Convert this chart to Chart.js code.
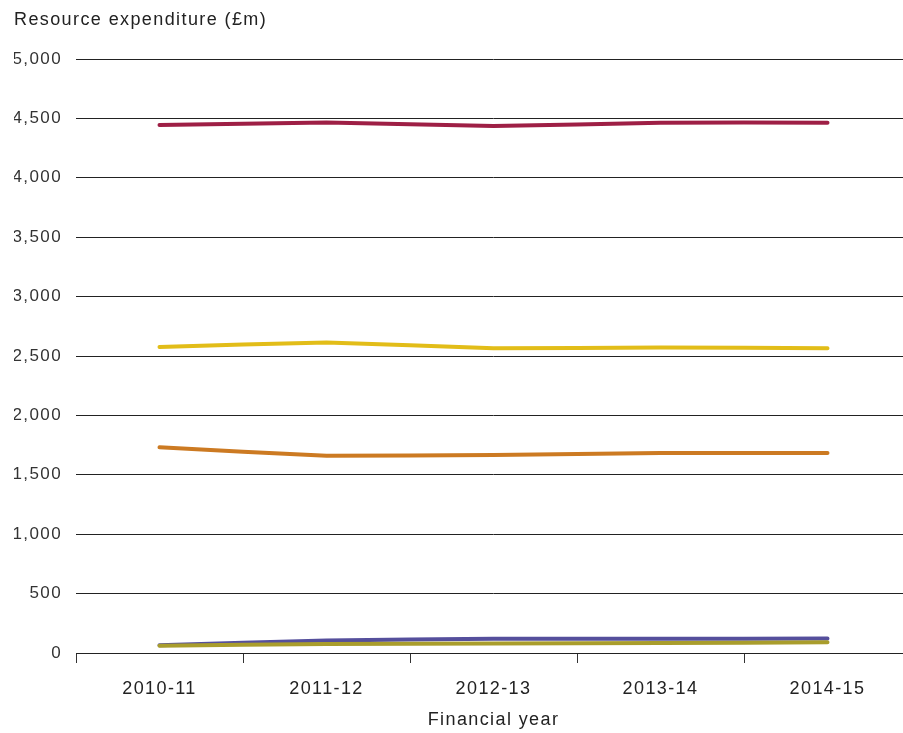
<!DOCTYPE html>
<html>
<head>
<meta charset="utf-8">
<style>
  html, body { margin: 0; padding: 0; overflow: hidden; background: #fff; }
  #wrap { width: 915px; height: 733px; }
</style>
<script src="https://cdn.jsdelivr.net/npm/chart.js@4.4.1/dist/chart.umd.min.js"></script>
</head>
<body>
<div id="wrap"><canvas id="c" width="915" height="733"></canvas></div>
<script>
const categories = ['2010-11', '2011-12', '2012-13', '2013-14', '2014-15'];
const seriesRed = [4444, 4466, 4436, 4464, 4464];
const seriesYellow = [2576, 2613, 2565, 2572, 2565];
const seriesOrange = [1731, 1661, 1667, 1684, 1684];
const seriesOlive = [62, 76, 81, 84, 90];
const seriesBlue = [66, 106, 120, 120, 122];
const yTicks = [0, 500, 1000, 1500, 2000, 2500, 3000, 3500, 4000, 4500, 5000];

const font = 'Liberation Sans, Arial, Helvetica, sans-serif';
const ds = (data, color) => ({
  data, borderColor: color, backgroundColor: color, borderWidth: 4,
  pointRadius: 0, tension: 0.1, fill: false, borderCapStyle: 'round', borderJoinStyle: 'round'
});

const spacingPlugin = {
  id: 'spacing',
  beforeUpdate(chart) { chart.ctx.letterSpacing = '1.4px'; },
  beforeLayout(chart) { chart.ctx.letterSpacing = '1.4px'; },
  beforeDraw(chart) { chart.ctx.letterSpacing = '1.4px'; }
};

new Chart(document.getElementById('c'), {
  type: 'line',
  data: {
    labels: categories,
    datasets: [
      ds(seriesRed, '#9e1f45'),
      ds(seriesYellow, '#e2bd18'),
      ds(seriesOrange, '#cc7a22'),
      ds(seriesOlive, '#a99d2c'),
      ds(seriesBlue, '#554f9c')
    ]
  },
  plugins: [spacingPlugin],
  options: {
    responsive: false,
    animation: false,
    layout: { padding: { left: 14, right: 4, top: 0, bottom: 0 } },
    plugins: {
      legend: { display: false },
      tooltip: { enabled: false },
      title: {
        display: true, text: 'Resource expenditure (£m)', align: 'start',
        color: '#222', font: { family: font, size: 18, weight: 'normal' },
        padding: { top: 9, bottom: 28.4 }
      }
    },
    scales: {
      x: {
        type: 'category', offset: true,
        grid: { display: true, drawOnChartArea: false, drawTicks: true, tickLength: 10, color: '#333', offset: true },
        border: { display: true, color: '#222', width: 1 },
        ticks: { color: '#222', font: { family: font, size: 18 }, padding: 15, maxRotation: 0 },
        title: { display: true, text: 'Financial year', color: '#222', font: { family: font, size: 18 }, padding: { top: 10, bottom: 2.2 } },
        afterFit: s => { s.height = 80; }
      },
      y: {
        min: 0, max: 5000,
        afterBuildTicks: s => { s.ticks = yTicks.map(v => ({ value: v })); },
        grid: { color: '#222', lineWidth: 1, drawTicks: false },
        border: { display: false },
        ticks: {
          color: '#333', font: { family: font, size: 17 }, padding: 14,
          callback: v => v.toLocaleString('en-GB')
        },
        afterFit: s => { s.width = 62; }
      }
    }
  }
});
</script>
</body>
</html>
